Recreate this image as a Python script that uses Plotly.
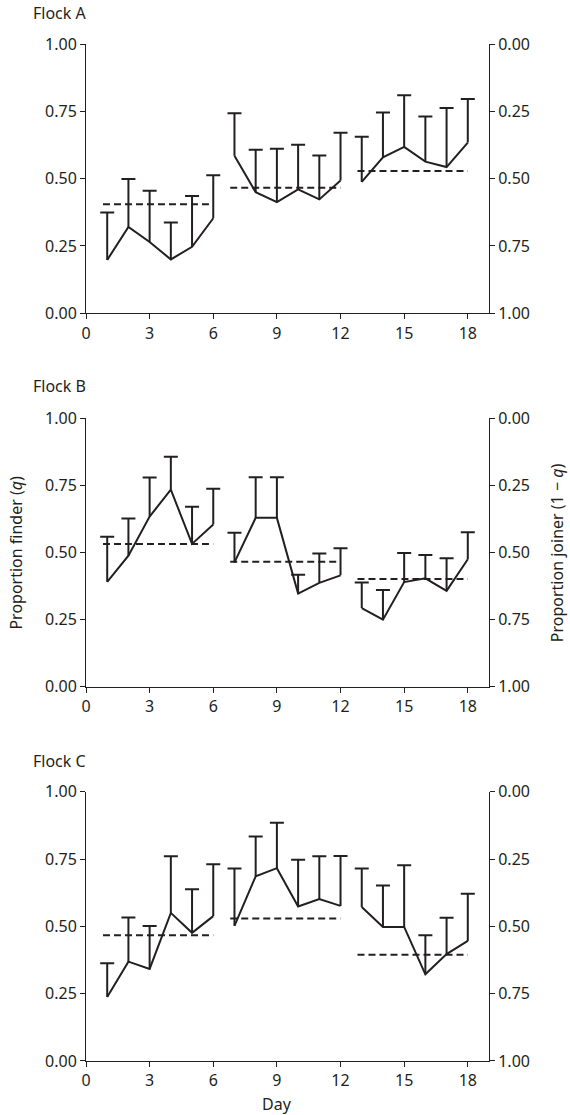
import plotly.graph_objects as go

# Daily proportion of finders (q) for three flocks, with upper error limits
days = list(range(1, 19))

flock_a_q = [0.198, 0.321, 0.265, 0.200, 0.247, 0.353,
             0.585, 0.450, 0.413, 0.460, 0.423, 0.493,
             0.488, 0.579, 0.618, 0.563, 0.543, 0.634]
flock_a_upper = [0.374, 0.499, 0.455, 0.337, 0.436, 0.513,
                 0.743, 0.607, 0.611, 0.626, 0.586, 0.670,
                 0.656, 0.746, 0.810, 0.731, 0.762, 0.796]
flock_a_means = [0.405, 0.466, 0.528]

flock_b_q = [0.391, 0.488, 0.634, 0.734, 0.532, 0.604,
             0.463, 0.629, 0.629, 0.347, 0.387, 0.415,
             0.293, 0.250, 0.390, 0.404, 0.357, 0.475]
flock_b_upper = [0.559, 0.627, 0.779, 0.857, 0.670, 0.737,
                 0.574, 0.780, 0.780, 0.417, 0.496, 0.516,
                 0.388, 0.360, 0.498, 0.491, 0.479, 0.575]
flock_b_means = [0.532, 0.466, 0.401]

flock_c_q = [0.238, 0.369, 0.342, 0.550, 0.476, 0.538,
             0.502, 0.686, 0.716, 0.574, 0.601, 0.576,
             0.572, 0.498, 0.498, 0.322, 0.397, 0.446]
flock_c_upper = [0.363, 0.533, 0.501, 0.760, 0.638, 0.731,
                 0.715, 0.834, 0.885, 0.747, 0.760, 0.761,
                 0.715, 0.652, 0.727, 0.467, 0.532, 0.621]
flock_c_means = [0.467, 0.529, 0.395]

flock_names = ["Flock A", "Flock B", "Flock C"]
# Each flock was observed in three six-day periods
periods = [(0, 6), (6, 12), (12, 18)]

x_ticks = [0, 3, 6, 9, 12, 15, 18]
y_ticks = [0, 0.25, 0.5, 0.75, 1.0]
y_tick_text = ["0.00", "0.25", "0.50", "0.75", "1.00"]

INK = "#231f20"
FONT = "Noto Sans"
FS = 16
X_MAX = 19

flocks = [
    (flock_a_q, flock_a_upper, flock_a_means),
    (flock_b_q, flock_b_upper, flock_b_means),
    (flock_c_q, flock_c_upper, flock_c_means),
]

domains = [[0.7352, 1.0], [0.368, 0.632], [0.0, 0.2648]]

fig = go.Figure()

for i, (q, upper, means) in enumerate(flocks):
    n = i + 1
    xa = "x" if n == 1 else f"x{n}"
    ya = "y" if n == 1 else f"y{2 * n - 1}"
    for p, (s, e) in enumerate(periods):
        d = days[s:e]
        qq = q[s:e]
        up = upper[s:e]
        # mean for the period (dashed)
        fig.add_trace(go.Scatter(
            x=[d[0] - 0.2, d[-1]], y=[means[p], means[p]],
            mode="lines", line=dict(color=INK, width=2, dash="7px,4px"),
            xaxis=xa, yaxis=ya, showlegend=False, hoverinfo="skip"))
        # daily values with one-sided error bars
        fig.add_trace(go.Scatter(
            x=d, y=qq, mode="lines",
            line=dict(color=INK, width=2),
            error_y=dict(type="data", symmetric=False,
                         array=[u - v for u, v in zip(up, qq)],
                         arrayminus=[0] * len(qq),
                         width=0, thickness=2, color=INK),
            xaxis=xa, yaxis=ya, showlegend=False))
        # caps on the upper limits
        fig.add_trace(go.Scatter(
            x=d, y=up, mode="markers",
            marker=dict(symbol="line-ew", size=10,
                        line=dict(color=INK, width=2)),
            xaxis=xa, yaxis=ya, showlegend=False, hoverinfo="skip"))

axis_common = dict(
    showline=True, linecolor=INK, linewidth=1,
    ticks="outside", ticklen=5, tickwidth=1, tickcolor=INK,
    showgrid=False, zeroline=False,
    tickfont=dict(family=FONT, size=FS, color=INK),
)

layout = dict(
    width=570, height=1115,
    margin=dict(l=86, r=81, t=44, b=54),
    plot_bgcolor="white", paper_bgcolor="white",
    font=dict(family=FONT, size=FS, color=INK),
)

for i in range(3):
    n = i + 1
    xkey = "xaxis" if n == 1 else f"xaxis{n}"
    yl = "yaxis" if n == 1 else f"yaxis{2 * n - 1}"
    yr = f"yaxis{2 * n}"
    yl_ref = "y" if n == 1 else f"y{2 * n - 1}"
    x_ref = "x" if n == 1 else f"x{n}"
    layout[xkey] = dict(axis_common, range=[0, X_MAX], tickvals=x_ticks,
                        anchor=yl_ref, domain=[0, 1], ticklabelstandoff=0)
    layout[yl] = dict(axis_common, range=[0, 1], tickvals=y_ticks,
                      ticktext=y_tick_text, anchor=x_ref, domain=domains[i])
    layout[yr] = dict(axis_common, range=[1, 0], tickvals=y_ticks,
                      ticktext=y_tick_text, overlaying=yl_ref, side="right",
                      anchor=x_ref)

fig.update_layout(**layout)

# second y axes need a trace to be drawn
for i in range(3):
    n = i + 1
    fig.add_trace(go.Scatter(x=[None], y=[None], xaxis="x" if n == 1 else f"x{n}",
                             yaxis=f"y{2 * n}", showlegend=False))

label_y = [1.0305, 0.6637, 0.295]
for name, yy in zip(flock_names, label_y):
    fig.add_annotation(text=name, xref="paper", yref="paper",
                       x=-0.1365, y=yy, xanchor="left", yanchor="middle",
                       showarrow=False, font=dict(family=FONT, size=FS, color=INK))

fig.add_annotation(text="Proportion finder (<i>q</i>)", xref="paper", yref="paper",
                   x=-0.176, y=0.5, textangle=-90, showarrow=False,
                   xanchor="center", yanchor="middle",
                   font=dict(family=FONT, size=FS, color=INK))
fig.add_annotation(text="Proportion joiner (1 − <i>q</i>)", xref="paper", yref="paper",
                   x=1.168, y=0.5, textangle=-90, showarrow=False,
                   xanchor="center", yanchor="middle",
                   font=dict(family=FONT, size=FS, color=INK))
fig.add_annotation(text="Day", xref="paper", yref="paper",
                   x=9 / X_MAX, y=-0.0423, showarrow=False,
                   xanchor="center", yanchor="middle",
                   font=dict(family=FONT, size=FS, color=INK))

fig.write_html("out.html")
